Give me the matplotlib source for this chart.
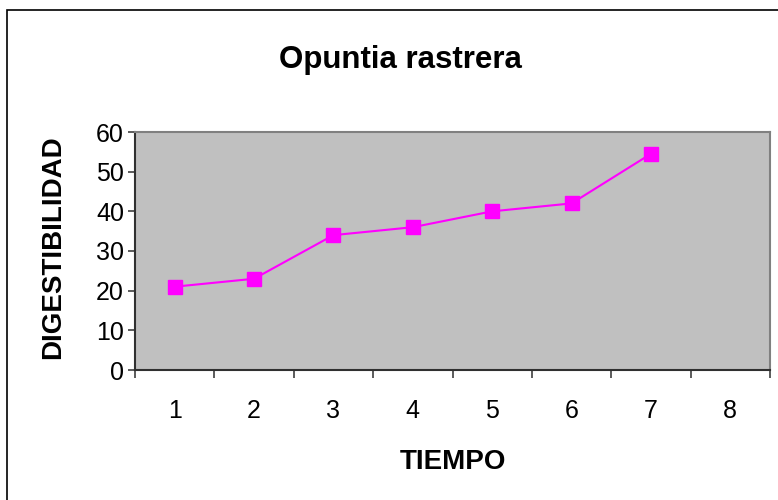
import numpy as np
from matplotlib import pyplot as plt
from matplotlib.patches import Rectangle

plt.rcParams['font.family'] = ['Liberation Sans', 'DejaVu Sans']

tiempo = [1, 2, 3, 4, 5, 6, 7, 8]
digestibilidad = [21, 23, 34, 36, 40, 42, 54.5]

fig = plt.figure(figsize=(7.78, 5), dpi=100)
ax = fig.add_axes([135/778, 1 - 370/500, (770-135)/778, (370-132)/500])
ax.set_facecolor('#c0c0c0')

xs = np.arange(len(digestibilidad)) + 0.5
ax.plot(xs, digestibilidad, color='#ff00ff', lw=1.5, marker='s', ms=10, mec='#ff00ff', mfc='#ff00ff')

ax.set_xlim(0, len(tiempo))
ax.set_ylim(0, 60)
ax.set_yticks(range(0, 61, 10))
ax.set_xticks(range(0, len(tiempo) + 1))
ax.set_xticklabels([])
ax.set_xticks(np.arange(len(tiempo)) + 0.5, minor=True)
ax.set_xticklabels([str(t) for t in tiempo], minor=True)
ax.tick_params(axis='x', which='minor', length=0, labelsize=18, pad=21)
ax.tick_params(axis='x', which='major', length=6, width=1.2, color='#404040')
ax.tick_params(axis='y', length=5, width=1.2, color='#404040', labelsize=18, pad=3)

ax.spines['left'].set_color('#303030')
ax.spines['bottom'].set_color('#303030')
ax.spines['left'].set_linewidth(1.5)
ax.spines['bottom'].set_linewidth(1.5)
ax.spines['top'].set_color('#808080')
ax.spines['right'].set_color('#808080')
ax.spines['top'].set_linewidth(1.5)
ax.spines['right'].set_linewidth(1.5)

fig.text(400/778, 1 - 60/500, 'Opuntia rastrera', ha='center', va='center', fontsize=22.5, fontweight='bold')
fig.text(453/778, 1 - 462/500, 'TIEMPO', ha='center', va='center', fontsize=20, fontweight='bold')
fig.text(53/778, 1 - 247/500, 'DIGESTIBILIDAD', ha='center', va='center', rotation=90, fontsize=20, fontweight='bold')

fig.patches.append(Rectangle((7/778, -0.1), 1.1, 1 - 10/500 + 0.1, transform=fig.transFigure,
                             fill=False, edgecolor='black', lw=1.2))

plt.savefig('out.png', dpi=100)
